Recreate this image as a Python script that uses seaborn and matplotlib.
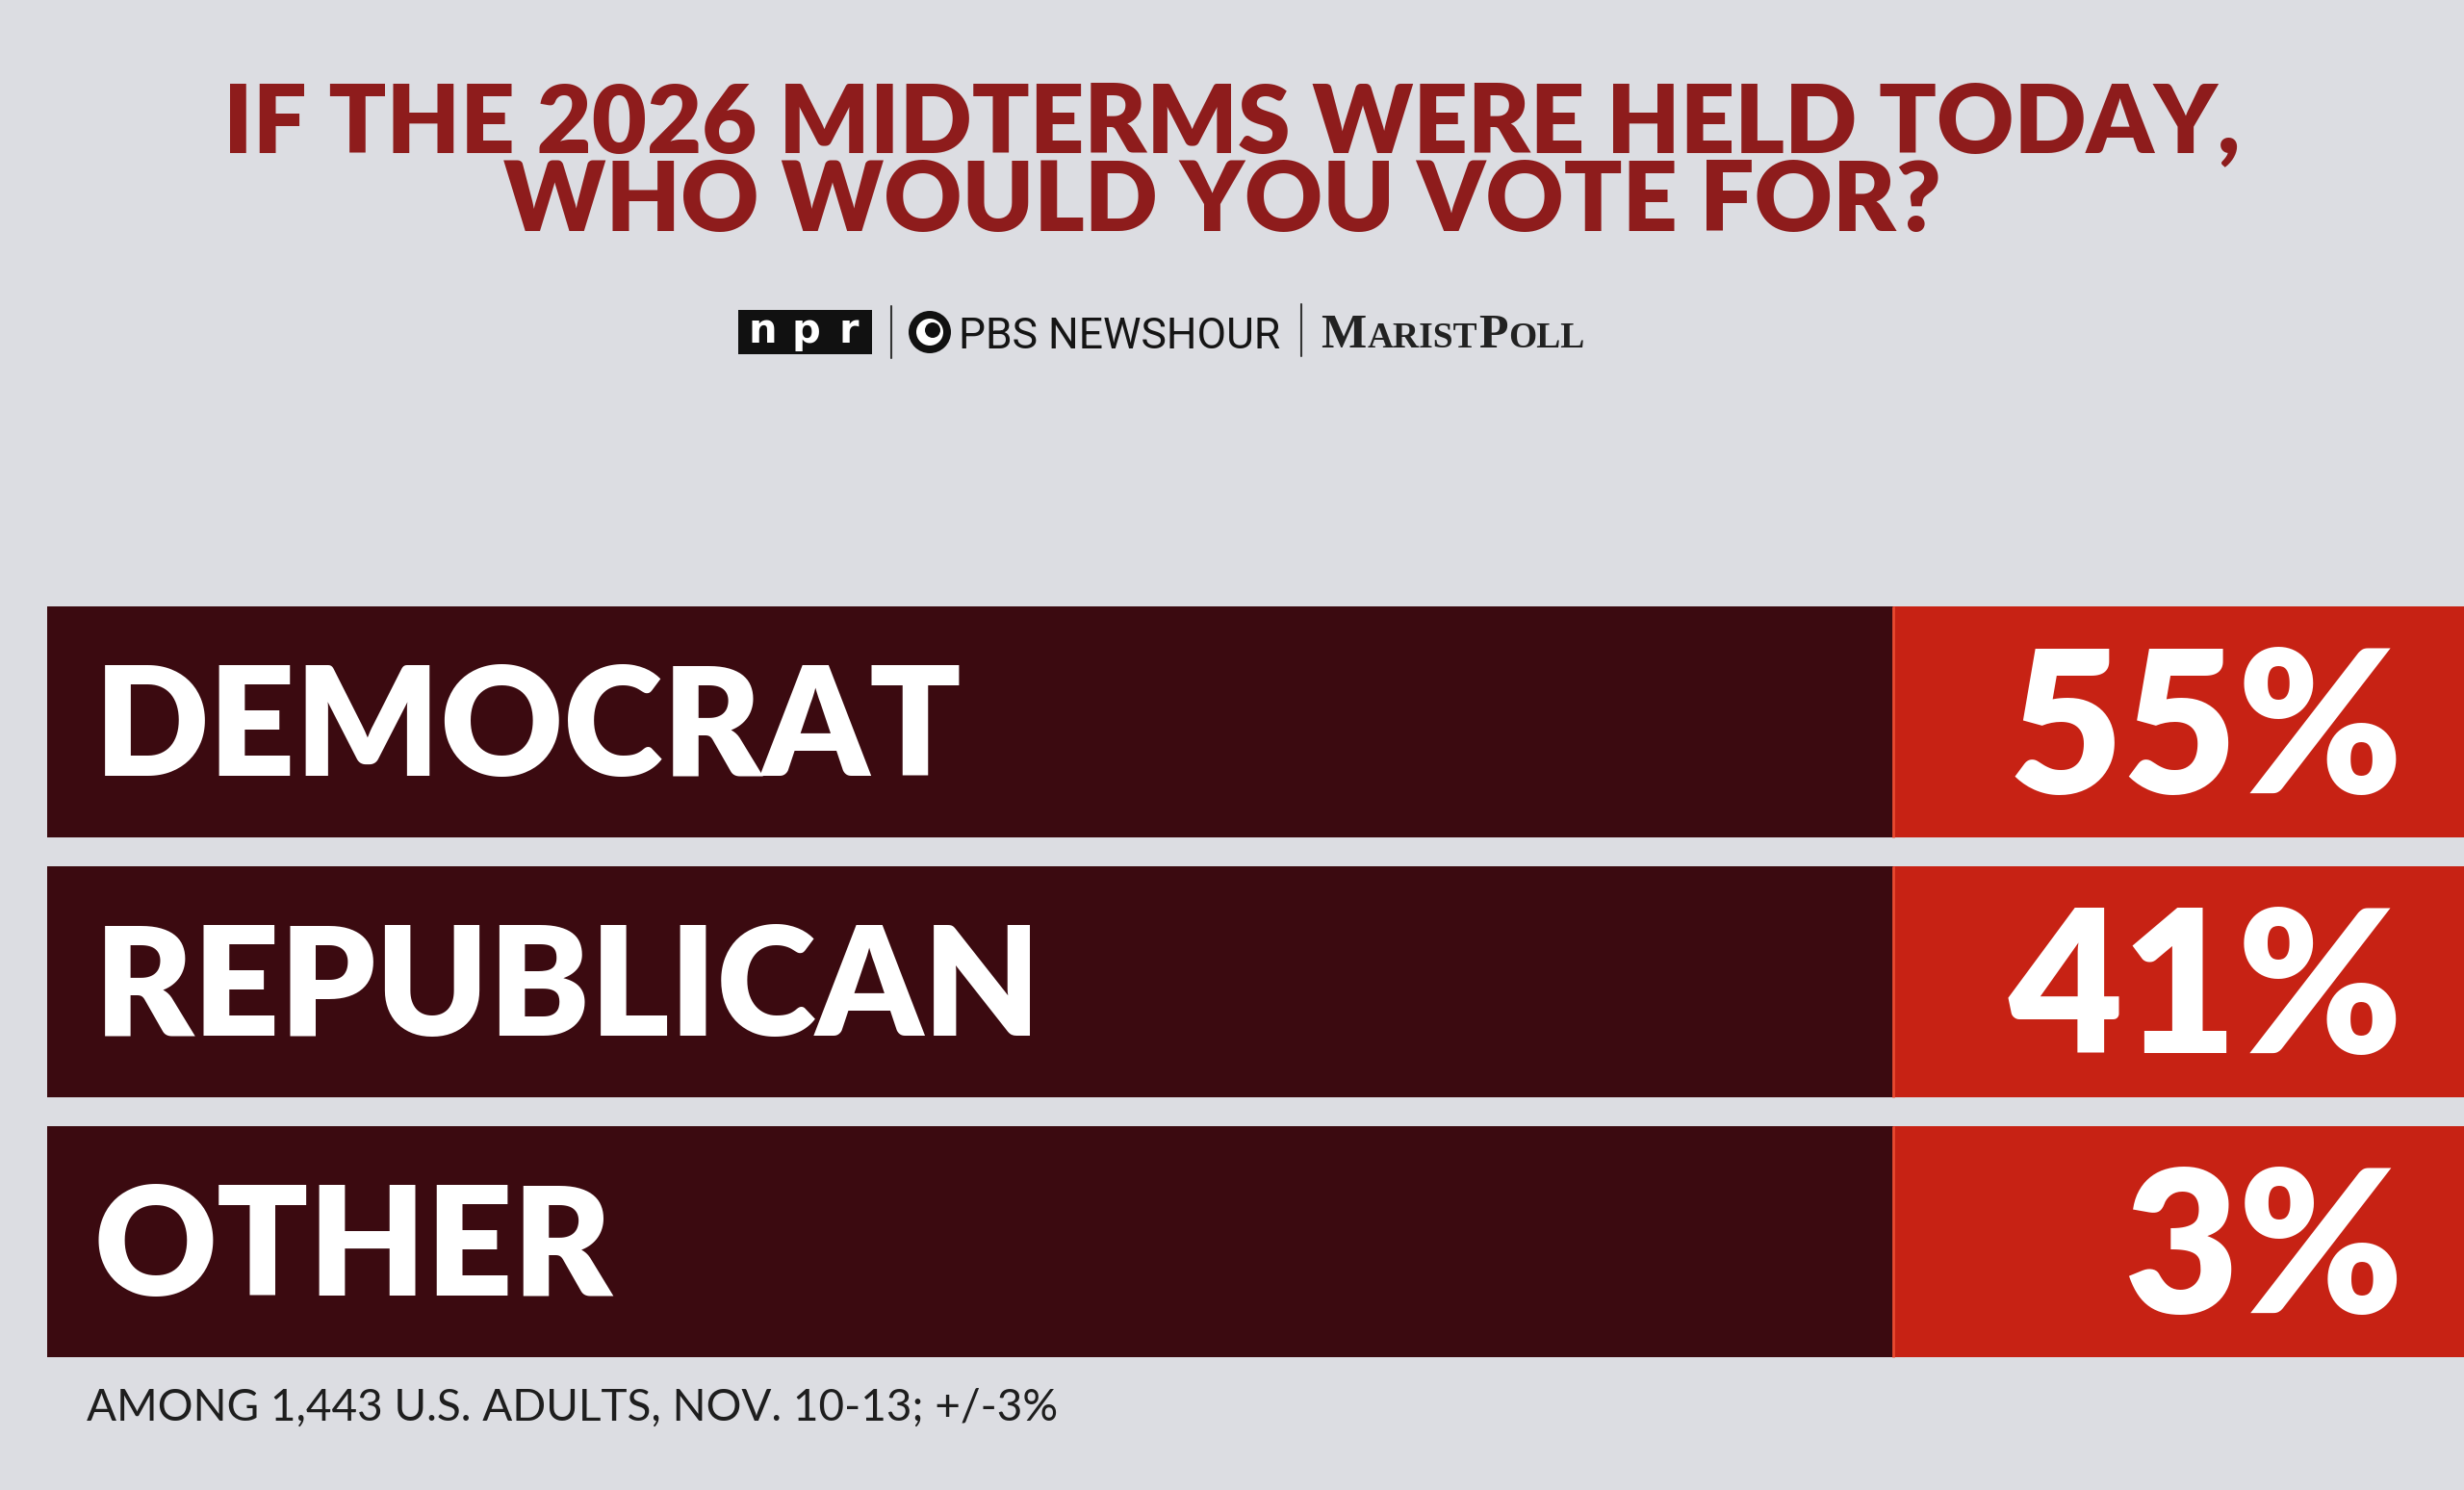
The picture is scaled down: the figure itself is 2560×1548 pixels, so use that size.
import matplotlib
matplotlib.use("Agg")
import matplotlib.pyplot as plt
import seaborn as sns
import pandas as pd
from matplotlib.patches import Rectangle, Circle

# ---------------- data ----------------
parties = ["DEMOCRAT", "REPUBLICAN", "OTHER"]
shares = [55, 41, 3]
share_labels = [f"{v}%" for v in shares]
title_lines = ["IF THE 2026 MIDTERMS WERE HELD TODAY,", "WHO WOULD YOU VOTE FOR?"]
npr_letters = ["n", "p", "r"]
pbs_text = "PBS NEWSHOUR"
marist_parts = [("M", True), ("ARIST", False), ("P", True), ("OLL", False)]
footnote = "AMONG 1,443 U.S. ADULTS, NOV. 10-13; +/-3%"

# ---------------- layout constants ----------------
TRACK = 100.0      # full row length
BOX_START = 76.4   # where the red value box starts
W, H = 2560, 1548

BG = "#dcdde2"
DARK = "#3b0a10"
RED = "#c72214"
EDGE_RED = "#ea4a30"
TITLE_RED = "#8e1c1c"

sns.set_theme(style="white")
plt.rcParams["font.family"] = ["Lato", "DejaVu Sans"]

fig = plt.figure(figsize=(W / 100, H / 100), dpi=100, facecolor=BG)

# ---------------- bars ----------------
ax = fig.add_axes([49 / W, 1 - 1425 / H, 1 - 49 / W, 810 / H])
ax.set_facecolor("none")
df = pd.DataFrame({
    "party": parties,
    "track": [TRACK] * len(parties),
    "box": [BOX_START] * len(parties),
})
bw = 240 / 270
sns.barplot(data=df, x="track", y="party", order=parties, orient="h",
            color=RED, saturation=1, width=bw, errorbar=None, ax=ax, linewidth=0)
sns.barplot(data=df, x="box", y="party", order=parties, orient="h",
            color=DARK, saturation=1, width=bw, errorbar=None, ax=ax, linewidth=0)
ax.set_xlim(0, TRACK)
ax.set_ylim(2.5, -0.5)
ax.axis("off")

for i in range(len(parties)):
    ax.plot([BOX_START, BOX_START], [i - bw / 2, i + bw / 2], color=EDGE_RED, lw=2,
            solid_capstyle="butt")

px_per_unit = 270.0
label_fs = 113
label_cap = label_fs * 100 / 72 * 0.7165
val_fs = 148
val_cap = val_fs * 100 / 72 * 0.7165
for i, (p, lab) in enumerate(zip(parties, share_labels)):
    ax.text(1.95, i + (label_cap / 2) / px_per_unit, p, color="white",
            fontsize=label_fs, fontweight="heavy", ha="left", va="baseline")
    ax.text(97.5, i + (val_cap / 2) / px_per_unit, lab, color="white",
            fontsize=val_fs, fontweight="heavy", ha="right", va="baseline")

# ---------------- overlay (pixel coords) ----------------
ov = fig.add_axes([0, 0, 1, 1])
ov.set_xlim(0, W)
ov.set_ylim(H, 0)
ov.axis("off")
ov.patch.set_alpha(0)

# title
ov.text(1280, 158, title_lines[0], ha="center", va="baseline", fontsize=71,
        fontweight="heavy", color=TITLE_RED)
ov.text(1270, 240, title_lines[1], ha="center", va="baseline", fontsize=72,
        fontweight="heavy", color=TITLE_RED)

renderer = fig.canvas.get_renderer()

# npr logo
ov.add_patch(Rectangle((767, 322), 139, 46, facecolor="#111111", edgecolor="none"))
for x, ch in zip([792, 837, 882], npr_letters):
    ov.text(x, 356, ch, ha="center", va="baseline", fontsize=30,
            fontweight="bold", color="white", family=["DejaVu Sans"])

# separators
ov.plot([926, 926], [318, 372], color="#333333", lw=1.5)
ov.plot([1352, 1352], [316, 370], color="#333333", lw=1.5)

# PBS logo
ov.add_patch(Circle((966, 345), 22, facecolor="#111111", edgecolor="none"))
ov.add_patch(Circle((966, 345), 14, facecolor="white", edgecolor="none"))
ov.add_patch(Circle((969, 343), 8, facecolor="#111111", edgecolor="none"))
ov.text(996, 362, pbs_text, ha="left", va="baseline", fontsize=32,
        color="#151515", family=["Roboto", "DejaVu Sans"])

# Marist Poll small caps
x = 1372
for part, big in marist_parts:
    t = ov.text(x, 361, part, ha="left", va="baseline",
                fontsize=36 if big else 27, fontweight="bold",
                color="#222222", family=["Liberation Serif", "DejaVu Serif"])
    bb = t.get_window_extent(renderer)
    x = bb.x1 + 1

# footnote
ov.text(90, 1476, footnote, ha="left", va="baseline", fontsize=33,
        color="#1e1e1e", family=["Lato", "DejaVu Sans"])

fig.savefig("out.png", dpi=100, facecolor=BG)
